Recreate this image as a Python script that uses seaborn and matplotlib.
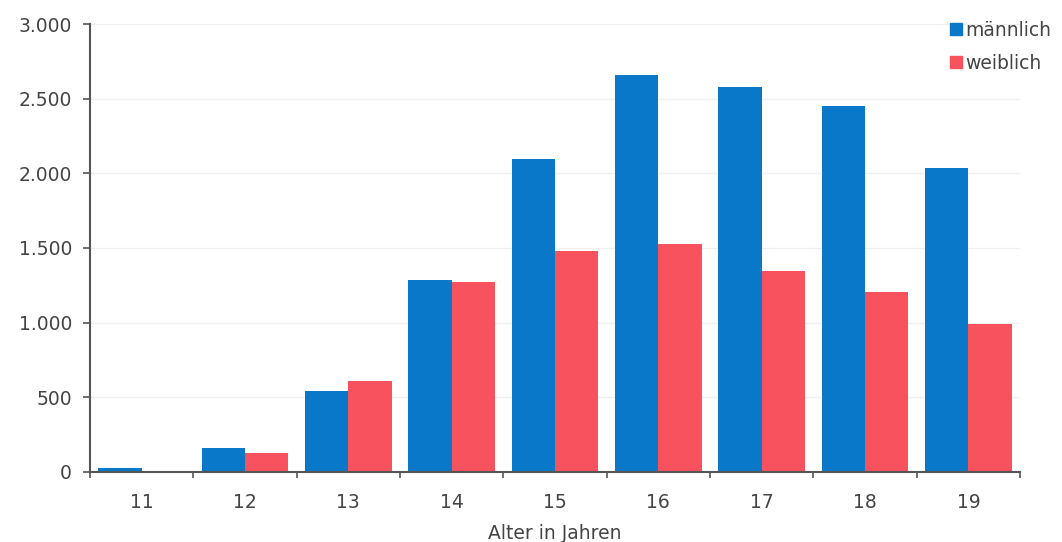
import numpy as np
import pandas as pd
import matplotlib
matplotlib.use("Agg")
import matplotlib.pyplot as plt
from matplotlib.ticker import FuncFormatter, FixedLocator
from matplotlib.lines import Line2D
import seaborn as sns

# Data
alter = ["11", "12", "13", "14", "15", "16", "17", "18", "19"]
maennlich = [28, 158, 544, 1286, 2096, 2658, 2580, 2453, 2034]
weiblich = [0, 129, 611, 1272, 1477, 1527, 1349, 1208, 993]
serien = ["männlich", "weiblich"]
y_ticks = [0, 500, 1000, 1500, 2000, 2500, 3000]

df = pd.DataFrame({
    "Alter": alter * 2,
    "Anzahl": maennlich + weiblich,
    "Geschlecht": [serien[0]] * len(alter) + [serien[1]] * len(alter),
})

blau = "#0a78c8"
rot = "#f7525e"
text_col = "#444444"
achse_col = "#555555"
fs = 13.5

sns.set_theme(style="white")
plt.rcParams["font.family"] = ["DejaVu Sans"]

fig = plt.figure(figsize=(10.62, 5.42), dpi=100)
ax = fig.add_axes([0.0847, 0.1292, 0.8758, 0.8265])

sns.barplot(data=df, x="Alter", y="Anzahl", hue="Geschlecht",
            hue_order=serien, palette=[blau, rot], width=0.84, gap=0,
            saturation=1, edgecolor="none", linewidth=0, ax=ax, legend=False)

ax.set_xlim(-0.5, len(alter) - 0.5)
ax.set_ylim(0, 3000)

# horizontal gridlines
ax.set_yticks(y_ticks)
ax.yaxis.grid(True, color="#f0f0f0", linewidth=1)
ax.set_axisbelow(True)
ax.yaxis.set_major_formatter(FuncFormatter(lambda v, p: f"{int(v):,}".replace(",", ".")))

# x ticks: labels at centres, tick marks at category boundaries
ax.xaxis.set_minor_locator(FixedLocator(np.arange(-0.5, len(alter), 1.0)))
ax.tick_params(axis="x", which="major", length=0, pad=15, labelsize=fs, labelcolor=text_col)
ax.tick_params(axis="x", which="minor", length=4, width=1.2, color=achse_col, direction="out", bottom=True)
ax.tick_params(axis="y", which="major", length=5, width=1.2, color=achse_col, direction="out",
               left=True, pad=8, labelsize=fs, labelcolor=text_col)

for s in ["top", "right"]:
    ax.spines[s].set_visible(False)
for s in ["left", "bottom"]:
    ax.spines[s].set_color(achse_col)
    ax.spines[s].set_linewidth(1.5)

ax.set_xlabel("Alter in Jahren", fontsize=fs, color=text_col, labelpad=9)
ax.set_ylabel("")

handles = [Line2D([0], [0], marker="s", linestyle="none", markersize=8,
                  markerfacecolor=c, markeredgecolor=c) for c in (blau, rot)]
fig.legend(handles, serien, loc="upper left", bbox_to_anchor=(0.887, 0.976),
           frameon=False, fontsize=fs, labelcolor=text_col, handletextpad=0.15,
           handlelength=0.7, borderaxespad=0, labelspacing=0.75)

fig.savefig("out.png", dpi=100)
